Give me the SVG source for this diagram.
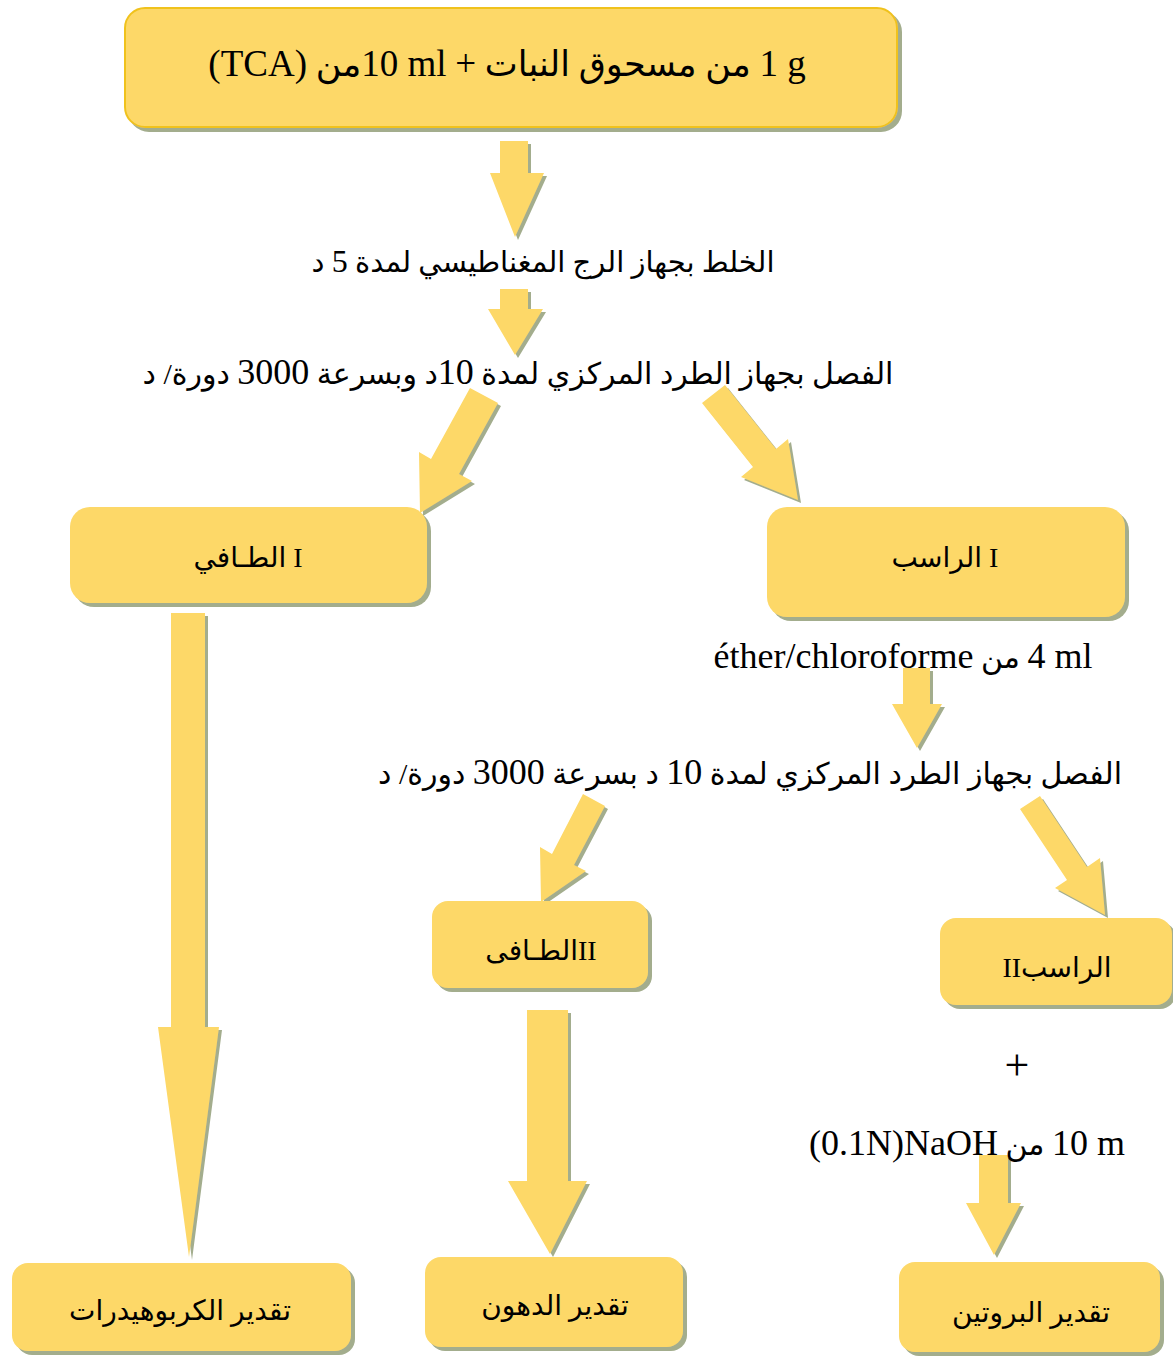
<svg xmlns="http://www.w3.org/2000/svg" width="1173" height="1356" viewBox="0 0 1173 1356">
<defs>
<filter id="sh" x="-10%" y="-10%" width="130%" height="130%">
<feFlood flood-color="#A3AD8D" result="c"/>
<feComposite in="c" in2="SourceAlpha" operator="in" result="s"/>
<feOffset in="s" dx="4" dy="4" result="o"/>
<feMerge><feMergeNode in="o"/><feMergeNode in="SourceGraphic"/></feMerge>
</filter>
<filter id="sha" x="-20%" y="-10%" width="150%" height="130%">
<feFlood flood-color="#A3AD8D" result="c"/>
<feComposite in="c" in2="SourceAlpha" operator="in" result="s"/>
<feOffset in="s" dx="3" dy="3" result="o"/>
<feMerge><feMergeNode in="o"/><feMergeNode in="SourceGraphic"/></feMerge>
</filter>
</defs>
<style>
.box{fill:#FDD867;filter:url(#sh)}
.arr{fill:#FDD867;filter:url(#sha)}
text{font-family:"Liberation Serif","DejaVu Sans",serif;fill:#000;font-size:30px;text-anchor:middle;direction:rtl}
text.lab{font-size:28px}
.l{font-size:36px}
</style>
<rect width="1173" height="1356" fill="#fff"/>
<g id="connectors">
<polygon class="arr" points="500,141 528,141 528,173 544,173 515,237 490,173 500,173"/>
<polygon class="arr" points="500,289 528,289 528,309 543,309 515,355 488,309 500,309"/>
<polygon class="arr" points="470,388 498,403 459,474 472,481 420,513 419,452 431,459"/>
<polygon class="arr" points="702,403 725,385 776,449 788,439 798,500 741,477 753,467"/>
<polygon class="arr" points="903,668 930,668 930,704 942,704 917,748 892,704 903,704"/>
<polygon class="arr" points="583,794 605,806 574,865 586,871 541,902 540,847 552,854"/>
<polygon class="arr" points="1020,809 1040,796 1087,867 1100,858 1105,915 1055,888 1067,880"/>
<polygon class="arr" points="171,613 205,613 205,1027 219,1027 189,1257 158,1027 171,1027"/>
<polygon class="arr" points="527,1010 568,1010 568,1181 587,1181 550,1254 508,1181 527,1181"/>
<polygon class="arr" points="979,1155 1008,1155 1008,1203 1021,1203 994,1255 966,1203 979,1203"/>
</g>
<g id="n-start">
<rect class="box" x="125" y="8" width="772" height="119" rx="20" stroke="#F0C21E" stroke-width="2"/>
<text x="507" y="76" style="font-size:35px"><tspan class="l" style="font-size:37px">&#x2066;1 g&#x2069;</tspan> من مسحوق النبات <tspan style="font-size:37px">+</tspan> <tspan style="font-size:37px">&#x2066;10 ml&#x2069;</tspan>من  <tspan style="font-size:37px">&#x2066;(TCA)&#x2069;</tspan></text>
</g>
<g id="n-mix"><text x="543" y="272" style="font-size:29px">الخلط بجهاز الرج المغناطيسي لمدة <tspan style="font-size:32px">5</tspan> د</text></g>
<g id="n-cent1"><text x="518" y="384">الفصل بجهاز الطرد المركزي لمدة <tspan class="l">10</tspan>د وبسرعة <tspan class="l">3000</tspan> دورة/ د</text></g>
<g id="n-sup1">
<rect class="box" x="70" y="507" width="357" height="96" rx="20"/>
<text class="lab" x="248" y="567">I الطـافي</text>
</g>
<g id="n-pel1">
<rect class="box" x="767" y="507" width="358" height="110" rx="20"/>
<text class="lab" x="945" y="567">I الراسب</text>
</g>
<g id="n-ether"><text x="903" y="668"><tspan class="l">&#x2066;4 ml&#x2069;</tspan> من <tspan class="l">&#x2066;éther/chloroforme&#x2069;</tspan></text></g>
<g id="n-cent2"><text x="750" y="784">الفصل بجهاز الطرد المركزي لمدة  <tspan class="l">10</tspan> د بسرعة <tspan class="l">3000</tspan> دورة/ د</text></g>
<g id="n-sup2">
<rect class="box" x="432" y="901" width="216" height="87" rx="16"/>
<text class="lab" x="541" y="960">IIالطـافى</text>
</g>
<g id="n-pel2">
<rect class="box" x="940" y="918" width="232" height="87" rx="16"/>
<text class="lab" x="1057" y="977">الراسبII</text>
</g>
<g id="n-plus"><text x="1017" y="1080" style="font-size:44px">+</text></g>
<g id="n-naoh"><text x="967" y="1155"><tspan class="l">&#x2066;10 m&#x2069;</tspan> من <tspan class="l">&#x2066;(0.1N)NaOH&#x2069;</tspan></text></g>
<g id="n-carbo">
<rect class="box" x="12" y="1263" width="339" height="88" rx="16"/>
<text class="lab" x="180" y="1320">تقدير الكربوهيدرات</text>
</g>
<g id="n-lipid">
<rect class="box" x="425" y="1257" width="258" height="90" rx="16"/>
<text class="lab" x="555" y="1315">تقدير الدهون</text>
</g>
<g id="n-prot">
<rect class="box" x="899" y="1262" width="261" height="90" rx="16"/>
<text class="lab" x="1031" y="1322">تقدير البروتين</text>
</g>
</svg>
